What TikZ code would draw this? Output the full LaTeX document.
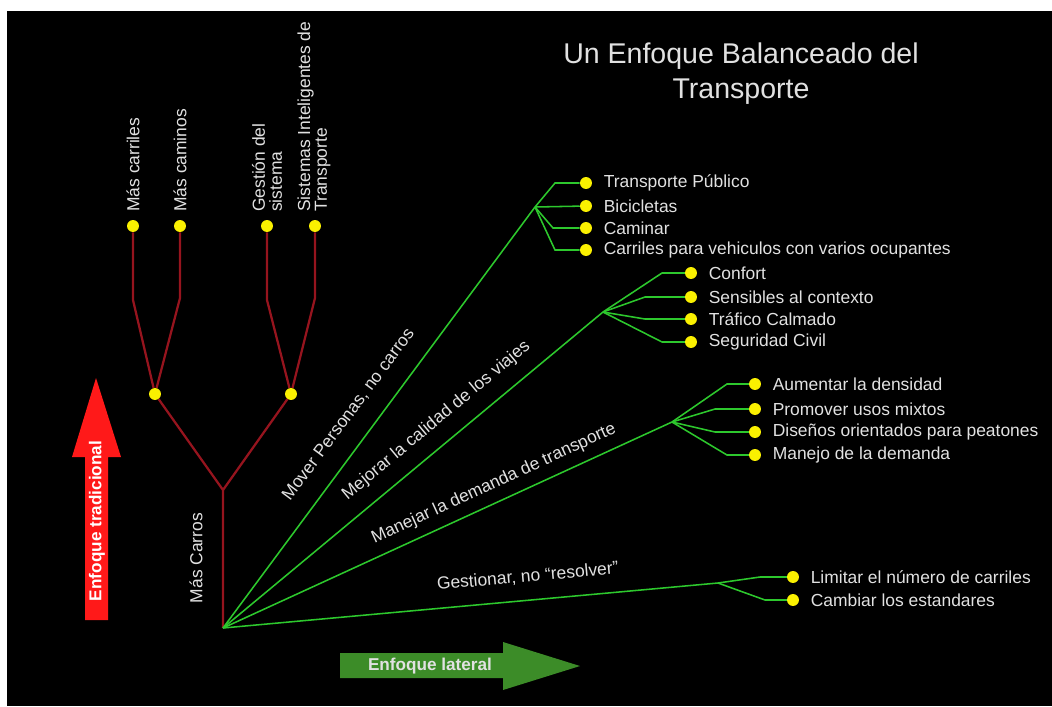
\documentclass[tikz,border=0pt]{standalone}
\usepackage{fontspec}
\setmainfont{Liberation Sans}
\usetikzlibrary{calc, positioning}

\definecolor{carred}{RGB}{150,20,30}
\definecolor{lanegreen}{RGB}{45,200,45}
\definecolor{dotyellow}{RGB}{250,240,0}
\definecolor{arrowred}{RGB}{255,25,25}
\definecolor{arrowgreen}{RGB}{60,140,40}
\definecolor{txtgray}{RGB}{225,225,225}

\begin{document}
\begin{tikzpicture}[x = 0.025cm, y = -0.025cm,
  dot/.style = {circle, fill = dotyellow, minimum size = 8.5pt, inner sep = 0pt},
  redline/.style = {draw = carred, line width = 1.6pt},
  greenline/.style = {draw = lanegreen, line width = 1.1pt},
  item/.style = {text = txtgray, font = \fontsize{12.4}{14}\selectfont, inner sep = 0pt},
  vlabel/.style = {text = txtgray, font = \fontsize{12.4}{12}\selectfont, rotate = 90, anchor = west, align = left, inner sep = 0pt},
  slabel/.style = {text = txtgray, font = \fontsize{12.4}{14}\selectfont, sloped, inner sep = 0pt},
  boldlabel/.style = {text = white, font = \bfseries\fontsize{12.2}{14}\selectfont, inner sep = 0pt}]
\fill[white] (0,0) rectangle (1052,706);
\fill[black] (7,11) rectangle (1052,706);
\useasboundingbox (0,0) rectangle (1052,706);

\node[text = txtgray, align = center, font = \fontsize{20.3}{24.9}\selectfont] (title) at (741,74) {Un Enfoque Balanceado del\\Transporte};

% arbol rojo
\node[dot] (carriles) at (133,226) {};
\node[dot] (caminos) at (180,226) {};
\node[dot] (gestion) at (267,226) {};
\node[dot] (its) at (315,226) {};
\node[dot] (vias) at (155,394) {};
\node[dot] (tecno) at (291,394) {};
\coordinate (k1) at (133,300);
\coordinate (k2) at (180,298);
\coordinate (k3) at (267,300);
\coordinate (k4) at (315,298);
\coordinate (fork) at (223,490);
\coordinate (root) at (223,628);
\node[vlabel] (lcarriles) at (133,212) {Más carriles};
\node[vlabel] (lcaminos) at (180,212) {Más caminos};
\node[vlabel] (lgestion) at (267,212) {Gestión del\\sistema};
\node[vlabel] (lits) at (314,212) {Sistemas Inteligentes de\\Transporte};
\node[vlabel, anchor = center] (carros) at (196,558) {Más Carros};
\draw[redline] (carriles) -- (k1) -- (vias);
\draw[redline] (caminos) -- (k2) -- (vias);
\draw[redline] (gestion) -- (k3) -- (tecno);
\draw[redline] (its) -- (k4) -- (tecno);
\draw[redline] (vias) -- (fork) -- (root);
\draw[redline] (tecno) -- (fork);

% flechas
\fill[arrowred] (85,620) -- (85,457) -- (72,457) -- (96,378) -- (121,457) -- (108,457) -- (108,620) -- cycle;
\node[boldlabel, rotate = 90] (tradicional) at (97,521) {Enfoque tradicional};
\fill[arrowgreen] (340,653) -- (503,653) -- (503,642) -- (580,666) -- (503,690) -- (503,678) -- (340,678) -- cycle;
\node[boldlabel, text = txtgray] (lateral) at (430,666) {Enfoque lateral};

% ramas verdes
\coordinate (b1) at (535,207);
\coordinate (b2) at (603,312);
\coordinate (b3) at (672,422);
\coordinate (b4) at (718,583);
\draw[greenline] (root) -- node[slabel, above = 13pt, pos = .47] (lmover) {Mover Personas, no carros} (b1);
\draw[greenline] (root) -- node[slabel, above = 10pt, pos = .60] (lmejorar) {Mejorar la calidad de los viajes} (b2);
\draw[greenline] (root) -- node[slabel, above = 6.5pt, pos = .62] (lmanejar) {Manejar la demanda de transporte} (b3);
\draw[greenline] (root) -- node[slabel, above = 11pt, pos = .62] (lgestionar) {Gestionar, no “resolver”} (b4);

% mover personas
\node[dot] (d1a) at (586,183) {};
\node[dot] (d1b) at (586,206) {};
\node[dot] (d1c) at (586,228) {};
\node[dot] (d1d) at (586,250) {};
\node[item, right = 8pt of d1a] (tpub) {Transporte Público};
\node[item, right = 8pt of d1b] (bici) {Bicicletas};
\node[item, right = 8pt of d1c] (caminar) {Caminar};
\node[item, right = 8pt of d1d] (hov) {Carriles para vehiculos con varios ocupantes};
\draw[greenline] (b1) -- ($(d1a)+(-31,0)$) -- (d1a);
\draw[greenline] (b1) -- (d1b);
\draw[greenline] (b1) -- ($(d1c)+(-33,0)$) -- (d1c);
\draw[greenline] (b1) -- ($(d1d)+(-31,0)$) -- (d1d);

% calidad de los viajes
\node[dot] (d2a) at (691,273) {};
\node[dot] (d2b) at (691,297) {};
\node[dot] (d2c) at (691,319) {};
\node[dot] (d2d) at (691,342) {};
\node[item, right = 8pt of d2a] (confort) {Confort};
\node[item, right = 8pt of d2b] (contexto) {Sensibles al contexto};
\node[item, right = 8pt of d2c] (calmado) {Tráfico Calmado};
\node[item, right = 8pt of d2d] (seguridad) {Seguridad Civil};
\draw[greenline] (b2) -- ($(d2a)+(-29,0)$) -- (d2a);
\draw[greenline] (b2) -- ($(d2b)+(-46,0)$) -- (d2b);
\draw[greenline] (b2) -- ($(d2c)+(-46,0)$) -- (d2c);
\draw[greenline] (b2) -- ($(d2d)+(-29,0)$) -- (d2d);

% demanda
\node[dot] (d3a) at (755,384) {};
\node[dot] (d3b) at (755,409) {};
\node[dot] (d3c) at (755,432) {};
\node[dot] (d3d) at (755,455) {};
\node[item, right = 8pt of d3a] (densidad) {Aumentar la densidad};
\node[item, right = 8pt of d3b] (mixtos) {Promover usos mixtos};
\node[item, right = 8pt of d3c] (peatones) {Diseños orientados para peatones};
\node[item, right = 8pt of d3d] (mdemanda) {Manejo de la demanda};
\draw[greenline] (b3) -- ($(d3a)+(-28,0)$) -- (d3a);
\draw[greenline] (b3) -- ($(d3b)+(-40,0)$) -- (d3b);
\draw[greenline] (b3) -- ($(d3c)+(-40,0)$) -- (d3c);
\draw[greenline] (b3) -- ($(d3d)+(-28,0)$) -- (d3d);

% gestionar
\node[dot] (d4a) at (793,577) {};
\node[dot] (d4b) at (793,600) {};
\node[item, right = 8pt of d4a] (limitar) {Limitar el número de carriles};
\node[item, right = 8pt of d4b] (estandares) {Cambiar los estandares};
\draw[greenline] (b4) -- ($(d4a)+(-33,0)$) -- (d4a);
\draw[greenline] (b4) -- ($(d4b)+(-28,0)$) -- (d4b);
\end{tikzpicture}
\end{document}
